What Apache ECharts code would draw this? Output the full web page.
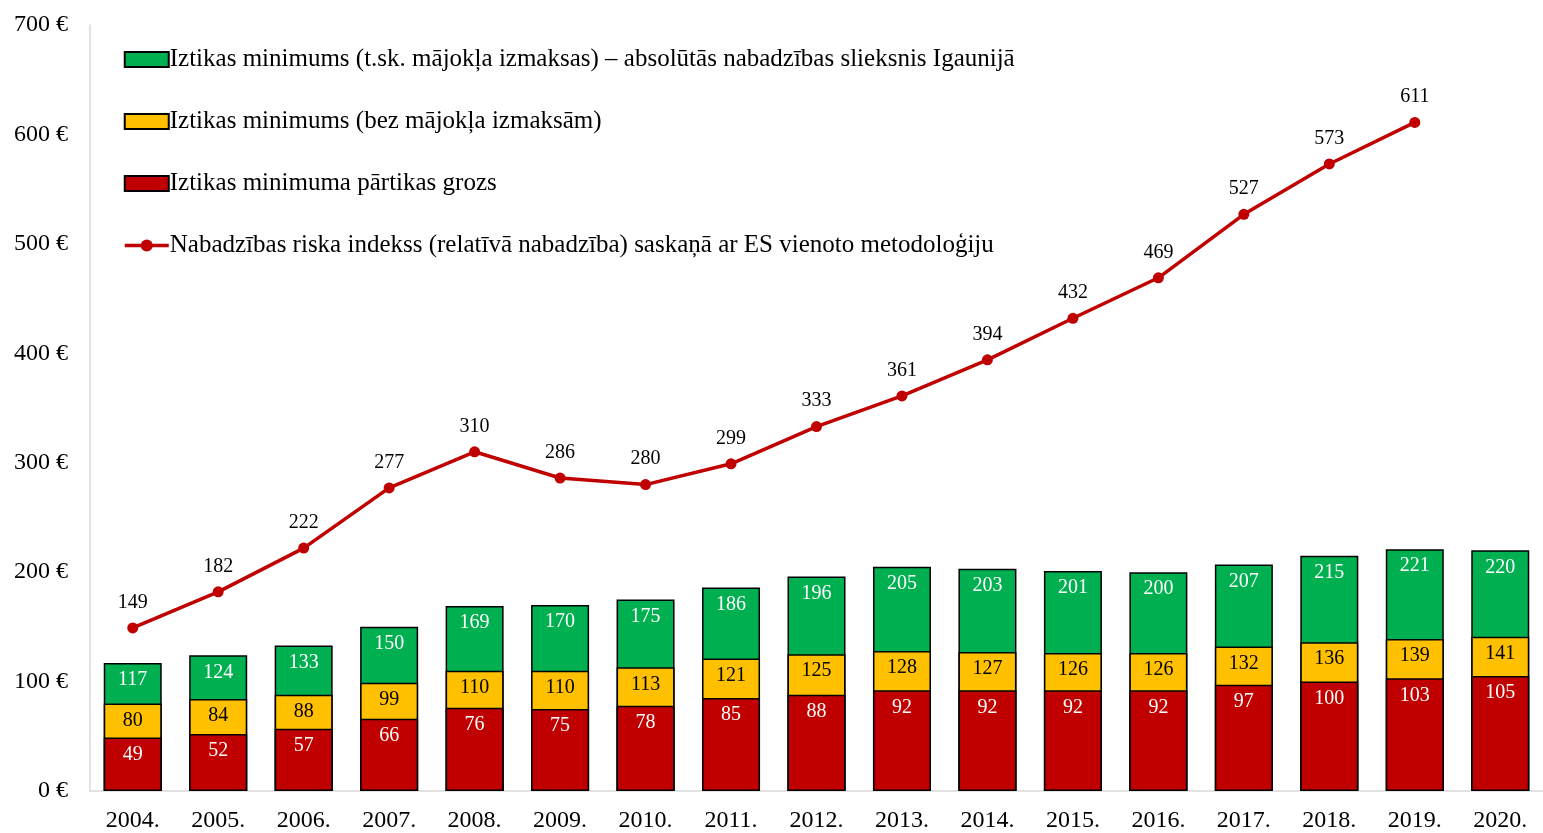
<!DOCTYPE html>
<html>
<head>
<meta charset="utf-8">
<script src="https://cdn.jsdelivr.net/npm/echarts@6/dist/echarts.min.js"></script>
<style>
  html, body { margin: 0; padding: 0; background: #fff; }
  #chart { width: 1543px; height: 833px; }
</style>
</head>
<body>
<div id="chart"></div>
<script>
var years = ['2004.', '2005.', '2006.', '2007.', '2008.', '2009.', '2010.', '2011.', '2012.',
  '2013.', '2014.', '2015.', '2016.', '2017.', '2018.', '2019.', '2020.'];
var withHousing = [117, 124, 133, 150, 169, 170, 175, 186, 196, 205, 203, 201, 200, 207, 215, 221, 220];
var noHousing = [80, 84, 88, 99, 110, 110, 113, 121, 125, 128, 127, 126, 126, 132, 136, 139, 141];
var foodBasket = [49, 52, 57, 66, 76, 75, 78, 85, 88, 92, 92, 92, 92, 97, 100, 103, 105];
var riskIndex = [149, 182, 222, 277, 310, 286, 280, 299, 333, 361, 394, 432, 469, 527, 573, 611, null];

var names = [
  'Iztikas minimums (t.sk. mājokļa izmaksas) – absolūtās nabadzības slieksnis Igaunijā',
  'Iztikas minimums (bez mājokļa izmaksām)',
  'Iztikas minimuma pārtikas grozs',
  'Nabadzības riska indekss (relatīvā nabadzība) saskaņā ar ES vienoto metodoloģiju'
];

var font = 'Liberation Serif';
var myChart = echarts.init(document.getElementById('chart'));

function barSeries(name, data, color, labelColor) {
  return {
    name: name,
    type: 'bar',
    data: data,
    barWidth: 58,
    barGap: '-100%',
    itemStyle: { color: color, borderColor: '#000', borderWidth: 1.5 },
    label: {
      show: true,
      position: 'insideTop',
      distance: 7,
      color: labelColor,
      fontFamily: font,
      fontSize: 20
    },
    emphasis: { disabled: true }
  };
}

var option = {
  animation: false,
  grid: { left: 90, right: 0, top: 25, bottom: 40 },
  legend: {
    orient: 'vertical',
    left: 118,
    top: 42,
    itemGap: 37,
    itemWidth: 44,
    itemHeight: 15,
    textStyle: { fontFamily: font, fontSize: 25, color: '#000', padding: [0, 0, 0, -4] },
    data: [
      { name: names[0], icon: 'rect' },
      { name: names[1], icon: 'rect' },
      { name: names[2], icon: 'rect' },
      { name: names[3], lineStyle: { width: 3.5 } }
    ]
  },
  xAxis: {
    type: 'category',
    data: years,
    axisLine: { lineStyle: { color: '#d9d9d9', width: 1.5 } },
    axisTick: { show: false },
    axisLabel: { fontFamily: font, fontSize: 24, color: '#000', margin: 18 }
  },
  yAxis: {
    type: 'value',
    min: 0,
    max: 700,
    interval: 100,
    axisLine: { show: true, lineStyle: { color: '#d9d9d9', width: 1.5 } },
    axisTick: { show: false },
    splitLine: { show: false },
    axisLabel: { fontFamily: font, fontSize: 24, color: '#000', margin: 22, formatter: '{value} €' }
  },
  series: [
    barSeries(names[0], withHousing, '#00B050', '#fff'),
    barSeries(names[1], noHousing, '#FFC000', '#000'),
    barSeries(names[2], foodBasket, '#C00000', '#fff'),
    {
      name: names[3],
      type: 'line',
      data: riskIndex,
      symbol: 'circle',
      symbolSize: 11,
      lineStyle: { color: '#C00000', width: 3.5 },
      itemStyle: { color: '#C00000' },
      label: {
        show: true,
        position: 'top',
        distance: 10,
        color: '#000',
        fontFamily: font,
        fontSize: 20
      },
      emphasis: { disabled: true }
    }
  ]
};
option && myChart.setOption(option);
</script>
</body>
</html>
